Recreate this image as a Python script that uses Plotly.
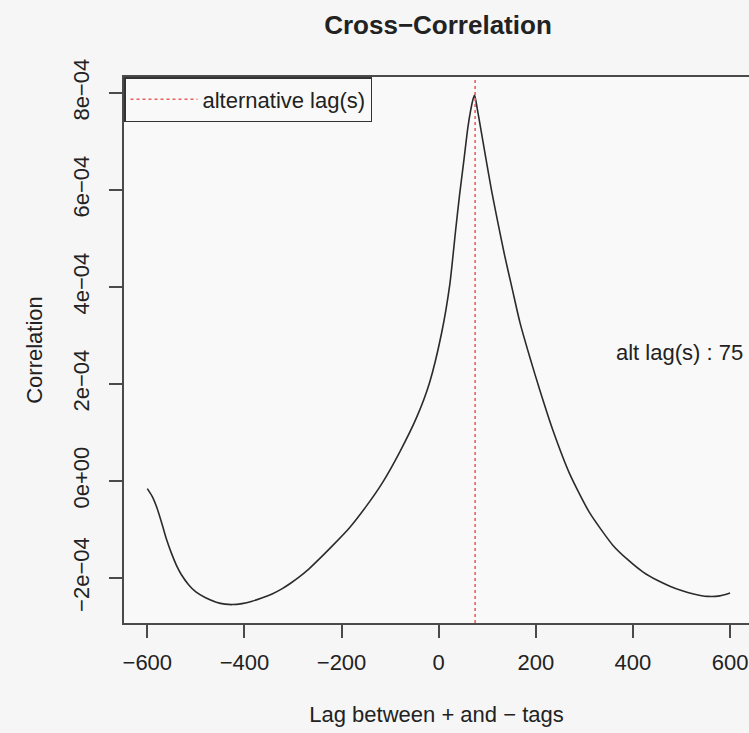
import plotly.graph_objects as go

# Cross-correlation values
lags = [-600, -590, -580, -570, -560, -550, -540, -530, -515, -500, -480, -458,
        -440, -425, -405, -384, -363, -343, -322, -305, -287, -270, -252, -219,
        -184, -149, -116, -80, -45, -19, 6, 23, 35, 43, 52, 60, 66, 71, 74, 79,
        85, 97, 109, 122, 136, 151, 167, 188, 208, 235, 270, 311, 359, 390, 421,
        450, 476, 500, 525, 553, 579, 600]
corr = [-0.16e-4, -0.32e-4, -0.56e-4, -0.88e-4, -1.22e-4, -1.50e-4, -1.74e-4,
        -1.93e-4, -2.14e-4, -2.29e-4, -2.41e-4, -2.50e-4, -2.54e-4, -2.55e-4,
        -2.53e-4, -2.48e-4, -2.41e-4, -2.33e-4, -2.22e-4, -2.11e-4, -1.98e-4,
        -1.84e-4, -1.67e-4, -1.34e-4, -0.97e-4, -0.52e-4, -0.04e-4, 0.60e-4,
        1.32e-4, 2.02e-4, 3.05e-4, 4.06e-4, 5.18e-4, 5.90e-4, 6.62e-4, 7.28e-4,
        7.65e-4, 7.88e-4, 7.96e-4, 7.70e-4, 7.36e-4, 6.66e-4, 5.98e-4, 5.32e-4,
        4.64e-4, 3.98e-4, 3.28e-4, 2.54e-4, 1.88e-4, 1.05e-4, 0.14e-4, -0.66e-4,
        -1.33e-4, -1.63e-4, -1.88e-4, -2.05e-4, -2.17e-4, -2.26e-4, -2.33e-4,
        -2.38e-4, -2.37e-4, -2.31e-4]

alt_lag = 75
x_range = [-648, 639]
y_range = [-2.93e-4, 8.33e-4]

x_tickvals = [-600, -400, -200, 0, 200, 400, 600]
x_ticktext = ["\u2212600", "\u2212400", "\u2212200", "0", "200", "400", "600"]
y_tickvals = [-2e-4, 0, 2e-4, 4e-4, 6e-4, 8e-4]
y_ticktext = ["\u22122e\u221204", "0e+00", "2e\u221204", "4e\u221204", "6e\u221204", "8e\u221204"]

FONT = "Liberation Sans, Arial, Helvetica, sans-serif"
AXIS_COLOR = "#4a4a4a"

fig = go.Figure()
fig.add_trace(go.Scatter(
    x=lags, y=corr, mode="lines", showlegend=False,
    line=dict(color="#2b2b2b", width=1.6, shape="spline", smoothing=0.6),
    hoverinfo="x+y"))
fig.add_trace(go.Scatter(
    x=[alt_lag, alt_lag], y=y_range, mode="lines", name="alternative lag(s)",
    line=dict(color="#e8615c", width=1.6, dash="dot")))

fig.add_annotation(x=495, y=2.64e-4, xref="x", yref="y",
                   text="alt lag(s) : %d" % alt_lag, showarrow=False,
                   font=dict(size=22, color="#222", family=FONT))

fig.update_layout(
    width=749, height=733,
    margin=dict(l=124, r=0, t=77, b=110),
    paper_bgcolor="#f6f6f6", plot_bgcolor="#f9f9f9",
    font=dict(family=FONT, size=22, color="#222"),
    title=dict(text="<b>Cross\u2212Correlation</b>", x=438 / 749, xref="container",
               xanchor="center", y=1 - 25 / 733, yref="container", yanchor="middle",
               font=dict(size=26, family=FONT, color="#222")),
    legend=dict(x=0, y=1, xanchor="left", yanchor="top",
                bordercolor="#333", borderwidth=1.5, bgcolor="rgba(0,0,0,0)",
                font=dict(size=22, family=FONT, color="#222"), itemwidth=67),
    xaxis=dict(range=x_range, tickvals=x_tickvals, ticktext=x_ticktext,
               showgrid=False, zeroline=False, showline=True, mirror=True,
               linecolor=AXIS_COLOR, linewidth=1.5,
               ticks="outside", ticklen=13, tickwidth=1.5, tickcolor=AXIS_COLOR,
               ticklabelstandoff=6,
               title=dict(text="Lag between + and \u2212 tags", standoff=32,
                          font=dict(size=22))),
    yaxis=dict(range=y_range, tickvals=y_tickvals, ticktext=y_ticktext,
               showgrid=False, zeroline=False, showline=True, mirror=False,
               linecolor=AXIS_COLOR, linewidth=1.5,
               ticks="outside", ticklen=13, tickwidth=1.5, tickcolor=AXIS_COLOR,
               tickangle=-90, ticklabelstandoff=11,
               title=dict(text="Correlation", standoff=21, font=dict(size=22))),
)

fig.write_html("out.html", config={"displayModeBar": False},
               post_script="document.body.style.margin='0px';")
